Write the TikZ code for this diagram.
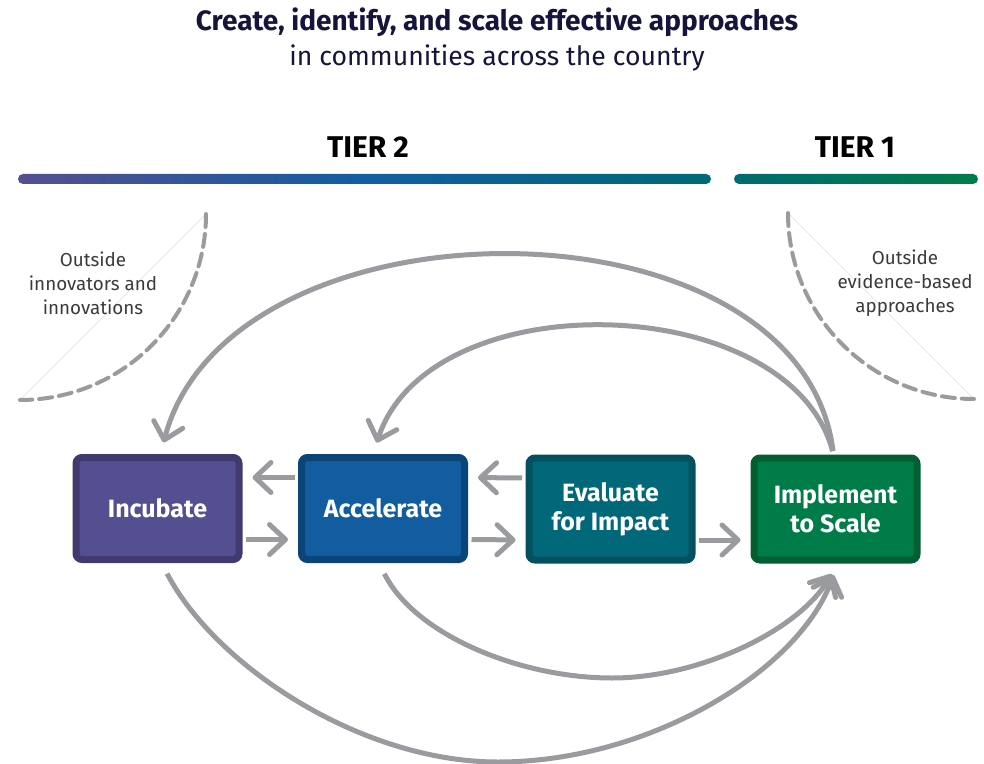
\documentclass[tikz,border=0pt]{standalone}
\usepackage{fontspec}
\setmainfont{Fira Sans}
\usetikzlibrary{arrows.meta}

\definecolor{incfill}{HTML}{544F91}
\definecolor{incline}{HTML}{413A6E}
\definecolor{accfill}{HTML}{125DA0}
\definecolor{accline}{HTML}{0B4578}
\definecolor{evafill}{HTML}{006878}
\definecolor{evaline}{HTML}{03505F}
\definecolor{impfill}{HTML}{007C48}
\definecolor{impline}{HTML}{035F32}
\definecolor{arrgray}{HTML}{9A9B9F}
\definecolor{titleblue}{HTML}{14143C}
\definecolor{notegray}{HTML}{3A3A3A}

\begin{document}
\begin{tikzpicture}[x=0.5pt,y=-0.5pt,
    stage/.style={draw,line width=3.5pt,rounded corners=3pt,minimum width=81.5pt,minimum height=51pt,align=center,text=white,font=\fontsize{12.5}{14.5}\selectfont\bfseries},
    flow/.style={draw=arrgray,line width=2.5pt,shorten <=1.75pt,shorten >=5pt,-{Straight Barb[length=8pt,width=15pt,round]}},
    outside/.style={draw=arrgray,line width=2pt,line cap=round,dash pattern=on 6.5pt off 3.5pt},
    note/.style={align=center,text=notegray,font=\fontsize{9.4}{12}\selectfont},
    tier/.style={font=\fontsize{15}{17}\selectfont\bfseries,text=black}]
    \useasboundingbox (0,0) rectangle (984,764);
    %标题
    \node[text=titleblue,font=\fontsize{14}{16}\selectfont\bfseries] (title) at (497,22){Create, identify, and scale effective approaches};
    \node[text=titleblue,font=\fontsize{13.3}{15}\selectfont] (subtitle) at (497,58){in communities across the country};
    %层级条
    \shade[left color=incfill,right color=evafill,middle color=accfill,rounded corners=2.5pt](18,174) rectangle (711,184);
    \shade[left color=evafill!85!impfill,right color=impfill,rounded corners=2.5pt](734,174) rectangle (978,184);
    \node[tier] (tiertwo) at (368,147){TIER 2};
    \node[tier] (tierone) at (855,147){TIER 1};
    %外部来源
    \draw[black!12,line width=0.3pt](206,214)--(20,400);
    \draw[black!12,line width=0.3pt](788,213)--(974,399);
    \draw[outside](206,214) arc[start angle=0,end angle=90,radius=186];
    \draw[outside](788,213) arc[start angle=180,end angle=90,radius=186];
    \node[note] (innov) at (93,283){Outside\\innovators and\\innovations};
    \node[note] (evid) at (905,283){Outside\\evidence-based\\approaches};
    %四个阶段
    \node[stage,fill=incfill,draw=incline] (inc) at (157.5,508.5){Incubate};
    \node[stage,fill=accfill,draw=accline] (acc) at (383,508.5){Accelerate};
    \node[stage,fill=evafill,draw=evaline] (eva) at (610.5,509){Evaluate\\for Impact};
    \node[stage,fill=impfill,draw=impline] (imp) at (835.5,509){Implement\\to Scale};
    %相邻阶段之间的箭头
    \draw[flow]([yshift=-15.5pt]inc.east)--([yshift=-15.5pt]acc.west);
    \draw[flow]([yshift=15.5pt]acc.west)--([yshift=15.5pt]inc.east);
    \draw[flow]([yshift=-15.5pt]acc.east)--([yshift=-15.5pt]eva.west);
    \draw[flow]([yshift=15.5pt]eva.west)--([yshift=15.5pt]acc.east);
    \draw[flow]([yshift=-15.5pt]eva.east)--([yshift=-15.5pt]imp.west);
    %上方回流弧线
    \draw[flow,shorten >=6pt]([xshift=-1pt]imp.north) .. controls (800,190) and (230,190) .. ([xshift=1.5pt]inc.north);
    \draw[flow,shorten >=6pt]([xshift=-1pt]imp.north) .. controls (790,290) and (430,280) .. ([xshift=-5pt]acc.north);
    %下方跳跃弧线
    \draw[flow,shorten <=6pt,shorten >=6pt]([xshift=2pt]inc.south) .. controls (215,665) and (360,762) .. (498,762) .. controls (650,762) and (800,670) .. ([xshift=1pt]imp.south);
    \draw[flow,shorten <=6pt,shorten >=6pt]([xshift=-2pt]acc.south) .. controls (415,635) and (520,678) .. (612,678) .. controls (700,678) and (800,630) .. ([xshift=1pt]imp.south);
\end{tikzpicture}
\end{document}
